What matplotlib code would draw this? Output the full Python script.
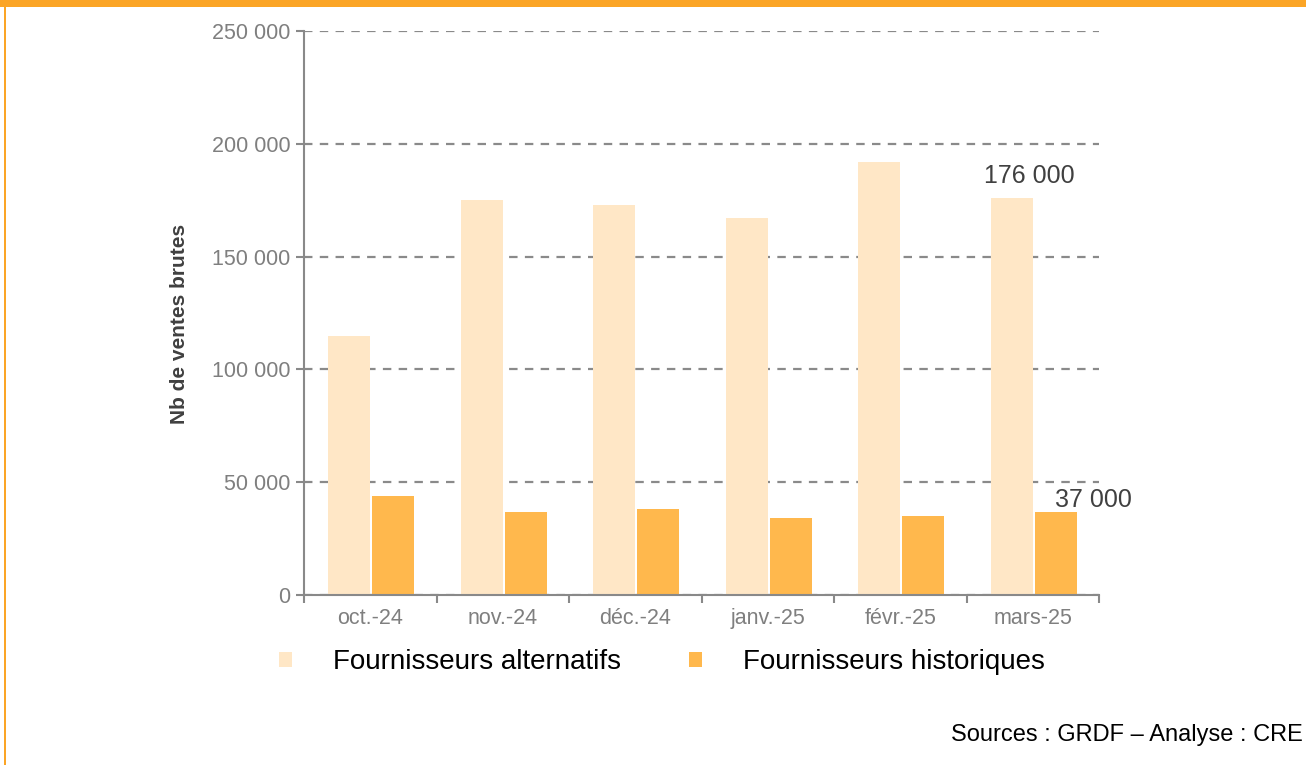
import matplotlib
matplotlib.use("Agg")
import matplotlib.pyplot as plt
import numpy as np
from matplotlib.patches import Rectangle

plt.rcParams['font.family'] = ['Liberation Sans', 'DejaVu Sans']

# Ventes brutes mensuelles par type de fournisseur
mois = ['oct.-24', 'nov.-24', 'déc.-24', 'janv.-25', 'févr.-25', 'mars-25']
alternatifs = [115000, 175000, 173000, 167000, 192000, 176000]
historiques = [44000, 37000, 38000, 34000, 35000, 37000]
yticks = [0, 50000, 100000, 150000, 200000, 250000]

c_alt = '#FFE7C6'
c_hist = '#FFB84D'
c_axe = '#898989'
c_cadre = '#FBA526'

fig = plt.figure(figsize=(13.06, 7.65), dpi=100)
ax = fig.add_axes([0.2328, 0.2222, 0.6087, 0.7373])

x = np.arange(len(mois))
w = 0.318
b1 = ax.bar(x - w, alternatifs, width=w, align='edge', color=c_alt, linewidth=0, zorder=2,
            label='Fournisseurs alternatifs')
b2 = ax.bar(x + 0.015, historiques, width=w, align='edge', color=c_hist, linewidth=0, zorder=2,
            label='Fournisseurs historiques')

ax.set_xlim(-0.5, len(mois) - 0.5)
ax.set_ylim(0, 250000)

# axe des y
ax.set_yticks(yticks)
ax.set_yticklabels([f"{v:,.0f}".replace(",", " ") for v in yticks])
ax.yaxis.grid(True, color='#8a8a8a', linewidth=1.6, linestyle=(0, (3.8, 3.3)), zorder=1)
ax.set_ylabel('Nb de ventes brutes', fontsize=15, fontweight='bold', color='#404040')
ax.yaxis.set_label_coords(-0.145, 0.48)

# axe des x : traits entre les mois, libellés au centre
ax.set_xticks(np.arange(len(mois) + 1) - 0.5)
ax.set_xticklabels([])
ax.set_xticks(x, minor=True)
ax.set_xticklabels(mois, minor=True)
ax.tick_params(axis='x', which='minor', length=0, labelsize=15.5, labelcolor='#7f7f7f', pad=9)
ax.tick_params(axis='x', which='major', length=6, width=1.5, color=c_axe)
ax.tick_params(axis='y', length=6, width=1.5, color=c_axe, labelsize=15.5, labelcolor='#7f7f7f', pad=4)

for s in ['top', 'right']:
    ax.spines[s].set_visible(False)
for s in ['left', 'bottom']:
    ax.spines[s].set_color(c_axe)
    ax.spines[s].set_linewidth(1.5)
ax.set_axisbelow(True)

# valeurs du dernier mois
ax.annotate(f"{alternatifs[-1]:,.0f}".replace(",", " "), xy=(x[-1] - w / 2, alternatifs[-1]),
            xytext=(13, 11), textcoords='offset points', ha='center', va='baseline',
            fontsize=18, color='#404040')
ax.annotate(f"{historiques[-1]:,.0f}".replace(",", " "), xy=(x[-1] + 0.015 + w / 2, historiques[-1]),
            xytext=(27, 3), textcoords='offset points', ha='center', va='baseline',
            fontsize=18, color='#404040')

fig.legend(handles=[b1, b2], loc='center left', bbox_to_anchor=(0.1948, 0.134), ncol=2,
           frameon=False, fontsize=20, handlelength=0.47, handleheight=0.47,
           handletextpad=1.45, columnspacing=2.47)

fig.text(0.9975, 0.031, 'Sources : GRDF – Analyse : CRE', ha='right', va='baseline',
         fontsize=17, color='black')

# cadre orange
fig.patches.append(Rectangle((0, 1 - 7 / 765), 1, 7 / 765, transform=fig.transFigure,
                             color=c_cadre, linewidth=0))
fig.patches.append(Rectangle((4 / 1306, 0), 2 / 1306, 1, transform=fig.transFigure,
                             color=c_cadre, linewidth=0))

fig.savefig('out.png', dpi=100)
